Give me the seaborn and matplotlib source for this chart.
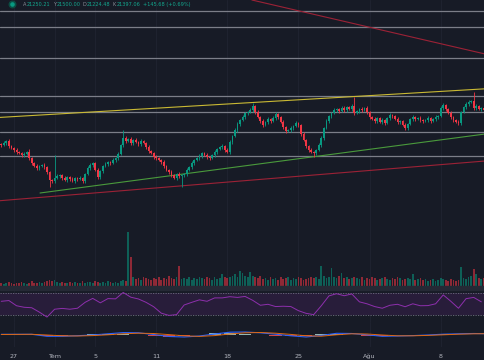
import numpy as np
import pandas as pd
import matplotlib
matplotlib.use("Agg")
import matplotlib.pyplot as plt
import matplotlib.dates as mdates
from matplotlib.lines import Line2D
import seaborn as sns

# 6h candles
first_open = 21040
closes = [21030, 21050, 21070, 21020, 21000, 20980, 20960, 20950, 20930, 20940, 20960, 20900,
          20850, 20820, 20800, 20820, 20830, 20810, 20760, 20680, 20670, 20700, 20720, 20730,
          20700, 20680, 20710, 20690, 20670, 20700, 20690, 20700, 20670, 20740, 20800,
          20830, 20850, 20780, 20710, 20770, 20820, 20840, 20860, 20850, 20880, 20900, 20940,
          21030, 21100, 21070, 21090, 21050, 21080, 21060, 21040, 21070, 21050, 21010, 20970,
          20950, 20910, 20900, 20880, 20860, 20820, 20780, 20760, 20730, 20700, 20740, 20720,
          20730, 20740, 20780, 20810, 20850, 20880, 20900, 20920, 20950, 20930, 20910,
          20900, 20930, 20960, 20990, 21010, 21020, 20980, 20960, 21060, 21120, 21180, 21240,
          21280, 21310, 21350, 21360, 21380, 21420, 21360, 21310, 21270, 21230, 21260, 21290,
          21270, 21300, 21340, 21310, 21260, 21210, 21170, 21180, 21200, 21220, 21250, 21230,
          21140, 21080, 21020, 20980, 20960, 20950, 20980, 21030, 21100, 21200, 21270, 21320,
          21350, 21380, 21390, 21370, 21400, 21380, 21410, 21390, 21420, 21350, 21370, 21390,
          21380, 21400, 21360, 21310, 21290, 21270, 21300, 21260, 21280, 21250, 21300, 21330,
          21320, 21290, 21260, 21270, 21230, 21200, 21240, 21290, 21310, 21290, 21300, 21280,
          21270, 21280, 21300, 21270, 21290, 21310, 21320, 21400, 21430, 21390, 21350,
          21310, 21280, 21260, 21250, 21360, 21410, 21440, 21460, 21470, 21400, 21420, 21390,
          21400, 21380]

upper_wick = [10, 20, 10, 20, 15, 10, 20, 10, 15, 20, 10, 30, 15, 10, 20, 15, 10, 20, 15, 10,
              15, 230, 20, 10, 15, 20, 10, 15, 20, 10, 15, 20, 10, 15, 20, 25, 15, 10, 20, 15,
              10, 20, 15, 10, 20, 15, 20, 15, 80, 20, 15, 25, 10, 20, 15, 20, 10, 15, 20, 10,
              15, 20, 10, 15, 20, 10, 15, 20, 15, 10, 20, 15, 10, 20, 15, 20, 10, 15, 20, 10,
              15, 20, 10, 15, 20, 10, 15, 20, 10, 25, 20, 15, 20, 25, 15, 20, 10, 15, 20, 30,
              15, 20, 10, 20, 15, 25, 10, 20, 20, 15, 10, 20, 15, 10, 20, 15, 20, 10, 15, 20,
              10, 15, 20, 10, 15, 20, 25, 15, 20, 10, 15, 20, 10, 15, 25, 20, 10, 15, 20, 90,
              15, 10, 20, 15, 20, 10, 15, 20, 10, 15, 20, 15, 10, 20, 15, 10, 20, 15, 10, 20,
              15, 10, 20, 15, 10, 20, 15, 10, 20, 15, 10, 20, 15, 25, 20, 15, 10, 20, 15, 10,
              20, 15, 10, 20, 25, 15, 90, 20, 15, 10, 15]
lower_wick = [15, 10, 20, 15, 10, 20, 15, 10, 20, 15, 10, 20, 15, 10, 20, 15, 10, 15, 20, 70,
              20, 15, 10, 20, 15, 10, 20, 15, 10, 20, 15, 10, 20, 15, 10, 15, 20, 10, 15, 20,
              15, 10, 20, 15, 10, 20, 15, 10, 20, 15, 10, 20, 15, 10, 20, 15, 10, 20, 15, 10,
              20, 15, 10, 20, 15, 10, 20, 15, 10, 20, 15, 110, 20, 15, 10, 20, 15, 10, 20, 15,
              10, 20, 15, 10, 20, 15, 10, 20, 15, 10, 20, 15, 10, 20, 15, 10, 20, 15, 10, 20,
              15, 10, 20, 15, 10, 20, 15, 10, 20, 15, 10, 20, 15, 10, 20, 15, 10, 20, 15, 10,
              20, 15, 10, 40, 15, 10, 20, 15, 10, 20, 15, 10, 20, 15, 10, 20, 15, 10, 20, 15,
              10, 20, 15, 10, 20, 15, 10, 20, 15, 10, 20, 15, 10, 20, 15, 10, 20, 15, 10, 20,
              15, 10, 20, 15, 10, 20, 15, 10, 20, 15, 10, 20, 15, 10, 20, 15, 10, 20, 15, 10,
              20, 15, 10, 20, 15, 10, 20, 15, 10, 20, 15]

volume = [3, 2, 3, 4, 3, 2, 3, 3, 4, 3, 2, 3, 5, 3, 3, 4, 3, 4, 5, 6,
          5, 6, 4, 3, 4, 3, 3, 4, 3, 4, 3, 3, 5, 3, 4, 4, 3, 5, 4, 3,
          4, 3, 5, 4, 3, 4, 3, 5, 6, 5, 54, 29, 9, 7, 8, 6, 9, 8, 7, 6,
          8, 7, 9, 6, 8, 7, 10, 8, 7, 9, 20, 7, 8, 7, 9, 6, 8, 7, 9, 8,
          7, 9, 8, 6, 9, 7, 8, 12, 9, 8, 9, 10, 12, 9, 15, 13, 10, 9, 14, 10,
          9, 8, 10, 7, 8, 6, 9, 7, 8, 6, 9, 7, 8, 9, 6, 8, 7, 9, 8, 6,
          7, 8, 9, 8, 9, 7, 20, 10, 8, 9, 18, 9, 8, 10, 13, 8, 9, 7, 8, 9,
          8, 7, 9, 6, 8, 7, 9, 8, 6, 7, 8, 9, 7, 6, 8, 7, 9, 8, 6, 7,
          8, 7, 12, 6, 7, 8, 6, 7, 5, 6, 7, 5, 6, 8, 7, 6, 5, 7, 6, 5,
          6, 19, 8, 7, 9, 10, 17, 12, 8, 7, 8]

# RSI every 3rd candle, MACD / signal every 6th candle (plus the last candle)
rsi = [55.5, 56.9, 47.3, 44.5, 43.6, 35.5, 26.4, 40.9, 42.4, 40.9, 42.7, 53.6, 60.9, 52.7,
       60.5, 60, 71.8, 63.1, 59.8, 53.6, 45.5, 33.6, 29.5, 30.9, 48.7, 53.6, 58.2, 55.5,
       61.8, 61.8, 64, 62.7, 64.5, 57.3, 48.2, 50, 45.8, 46.4, 45.8, 38.2, 33.3, 30.9,
       47.3, 65.5, 69.5, 65.8, 69.1, 54.5, 50.9, 45.8, 42.7, 48.2, 50, 45.5, 50.9, 47.3,
       47.6, 50.9, 67.3, 55.5, 42.7, 60.4, 62.7, 54.5]
macd = [7, 7, 7, -13, -13, -7, 0, 12, 24, 22, 5, -15, -20, -10, 10, 28, 30, 22, 8, -8,
        -20, -5, 17, 15, 2, -13, -10, -6, 0, 8, 12, 15, 13]
signal = [5, 6, 7, 0, -8, -10, -6, 2, 12, 18, 15, 4, -8, -14, -6, 10, 22, 25, 18, 6,
          -8, -12, 2, 12, 10, 0, -8, -8, -4, 2, 8, 12, 13]

levels = [22370, 22210, 21900, 21520, 21360, 21165, 20920]
yellow_line = (["2024-06-25 15:00", "2024-08-12 09:00"], [21306, 21592])
green_line = (["2024-06-29 13:30", "2024-08-12 09:00"], [20550, 21140])
red_low_line = (["2024-06-25 15:00", "2024-08-12 09:00"], [20473, 20870])
red_top_line = (["2024-07-20 10:00", "2024-08-12 09:00"], [22480, 21940])

tick_dates = ["2024-06-27", "2024-07-01", "2024-07-05", "2024-07-11",
              "2024-07-18", "2024-07-25", "2024-08-01", "2024-08-08"]
tick_labels = ["27", "Tem", "5", "11", "18", "25", "Ağu", "8"]

header_keys = ["A", "Y", "D", "K"]
header_vals = ["21250.21", "21500.00", "21224.48", "21397.06"]
header_change = "+145.68 (+0.69%)"

BG = "#171b26"
UP = "#089981"
DOWN = "#f23645"
GRID = "#1f2330"

sns.set_theme(style="dark", rc={"axes.facecolor": BG, "figure.facecolor": BG})
plt.rcParams["font.family"] = ["DejaVu Sans"]

df = pd.DataFrame({"time": pd.date_range("2024-06-25 18:00", periods=len(closes), freq="6h"),
                   "close": closes, "uw": upper_wick, "lw": lower_wick, "vol": volume})
df["open"] = [first_open] + closes[:-1]
df["high"] = df[["open", "close"]].max(axis=1) + df["uw"]
df["low"] = df[["open", "close"]].min(axis=1) - df["lw"]
df["up"] = df["close"] >= df["open"]
df["x"] = mdates.date2num(df["time"])
cols = np.where(df["up"], UP, DOWN)

x0 = mdates.date2num(pd.Timestamp("2024-06-25 15:00"))
x1 = x0 + 485 / 10.16

fig = plt.figure(figsize=(4.85, 3.6), dpi=100)
H = 360.0

def add_ax(top, bottom):
    a = fig.add_axes([0, 1 - bottom / H, 1, (bottom - top) / H])
    a.set_xlim(x0, x1)
    a.set_facecolor("none")
    for s in a.spines.values():
        s.set_visible(False)
    a.set_xticks([])
    a.set_yticks([])
    a.grid(False)
    for d in tick_dates:
        a.axvline(mdates.date2num(pd.Timestamp(d)), color=GRID, lw=0.7, zorder=0)
    return a

# price pane
ax = add_ax(0, 286)
ax.set_ylim(22480 - 2860, 22480)
for lv in levels:
    ax.axhline(lv, color="#7b7e88", lw=0.9, zorder=1)
for (dates, prices), c in [(yellow_line, "#c9b934"), (green_line, "#4a9a3c"),
                           (red_low_line, "#9c2236"), (red_top_line, "#9c2236")]:
    ax.plot(mdates.date2num(pd.to_datetime(dates)), prices, color=c, lw=0.8, zorder=2)
ax.vlines(df["x"], df["low"], df["high"], colors=cols, lw=0.6, zorder=3)
body = np.maximum((df["close"] - df["open"]).abs(), 6)
ax.bar(df["x"], body, bottom=df[["open", "close"]].min(axis=1), width=0.17,
       color=cols, linewidth=0, zorder=4)

# volume overlay
axv = add_ax(220, 286)
axv.set_ylim(0, 66)
axv.bar(df["x"], df["vol"], width=0.17, color=cols, alpha=0.55, linewidth=0)

# pane separator
fig.patches.append(plt.Rectangle((0, 1 - 289.5 / H), 1, 3.5 / H, transform=fig.transFigure,
                                 color="#252935", zorder=0))

# RSI pane
axr = add_ax(289.5, 322)
axr.set_ylim(17.3, 77.3)
axr.axhspan(30, 70, color="#281d3a", lw=0, zorder=0)
for lv in (30, 70):
    axr.axhline(lv, color="#6f6f80", lw=0.6, ls=(0, (1.5, 1.5)))
rsi_df = pd.DataFrame({"x": df["x"].iloc[::3].values, "rsi": rsi})
sns.lineplot(data=rsi_df, x="x", y="rsi", ax=axr, color="#8e2fad", lw=0.7)
axr.set_xlabel("")
axr.set_ylabel("")

# MACD pane
axm = add_ax(322, 347)
axm.set_ylim(-120, 130)
macd_x = list(df["x"].iloc[::6].values) + [df["x"].iloc[-1]]
macd_df = pd.DataFrame({"x": macd_x, "macd": macd, "signal": signal})
macd_df["hist"] = macd_df["macd"] - macd_df["signal"]
hist_col = np.where(macd_df["hist"] >= 0, "#b2dfdb", "#ff5252")
axm.bar(macd_df["x"], macd_df["hist"], width=1.2, color=hist_col, alpha=0.8, linewidth=0)
sns.lineplot(data=macd_df, x="x", y="macd", ax=axm, color="#2962ff", lw=0.8)
sns.lineplot(data=macd_df, x="x", y="signal", ax=axm, color="#e0680f", lw=0.7)
axm.set_xlabel("")
axm.set_ylabel("")
axm.set_xticks(mdates.date2num(pd.to_datetime(tick_dates)))
axm.set_xticklabels(tick_labels, fontsize=4.6, color="#b2b5be")
axm.tick_params(axis="x", length=0, pad=5)

# header
fs = 3.6
fig.add_artist(Line2D([12 / 485], [1 - 4 / H], marker="o", ms=4.5, color=UP,
                      markeredgecolor="#0b4d43", markeredgewidth=1.2, transform=fig.transFigure))
prev = fig.text(23 / 485, 1 - 4.5 / H, header_keys[0], fontsize=fs, color="#8a8e99", va="center")
for i, (k, v) in enumerate(zip(header_keys, header_vals)):
    if i > 0:
        prev = ax.annotate(k, xy=(1, 0.5), xycoords=prev, xytext=(1.5, 0), textcoords="offset points",
                           fontsize=fs, color="#8a8e99", va="center", annotation_clip=False)
    prev = ax.annotate(v, xy=(1, 0.5), xycoords=prev, xytext=(0.5, 0), textcoords="offset points",
                       fontsize=fs, color="#13a88f", va="center", annotation_clip=False)
ax.annotate(header_change, xy=(1, 0.5), xycoords=prev, xytext=(1.5, 0), textcoords="offset points",
            fontsize=fs, color="#13a88f", va="center", annotation_clip=False)

fig.savefig("out.png", dpi=100, facecolor=BG)
